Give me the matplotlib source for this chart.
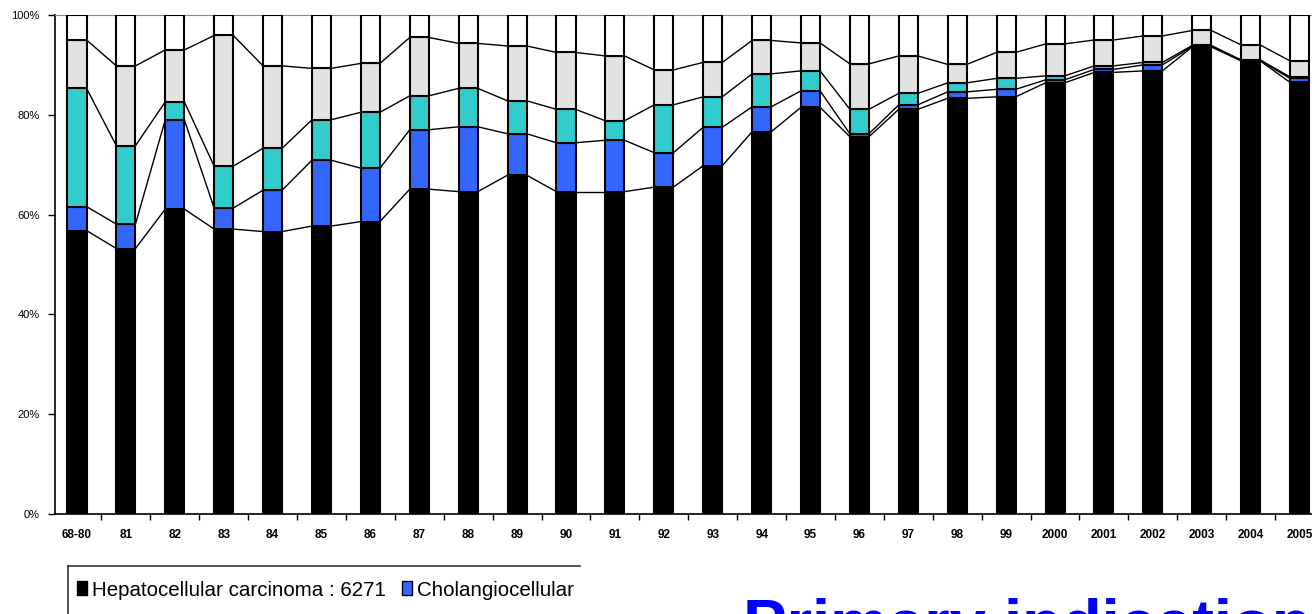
import matplotlib
matplotlib.use('Agg')
import matplotlib.pyplot as plt
import numpy as np
from matplotlib.patches import Patch
from matplotlib.lines import Line2D

categories = ['68-80', '81', '82', '83', '84', '85', '86', '87', '88', '89', '90', '91', '92',
              '93', '94', '95', '96', '97', '98', '99', '2000', '2001', '2002', '2003', '2004', '2005']
hcc = [56.8, 53.2, 61.1, 57.1, 56.6, 57.7, 58.6, 65.1, 64.6, 67.9, 64.6, 64.6, 65.5,
       69.8, 76.6, 81.5, 75.6, 81.1, 83.3, 83.6, 86.4, 88.5, 88.8, 93.6, 90.8, 86.5]
cholangio = [4.8, 4.9, 17.9, 4.2, 8.3, 13.2, 10.7, 11.9, 13.0, 8.3, 9.8, 10.3, 6.9,
             7.7, 5.0, 3.3, 0.6, 0.9, 1.3, 1.5, 0.6, 0.6, 1.2, 0.1, 0.1, 0.8]
series3 = [23.7, 15.7, 3.6, 8.4, 8.4, 8.1, 11.2, 6.8, 7.7, 6.6, 6.7, 3.9, 9.6,
           6.1, 6.6, 4.0, 4.9, 2.3, 1.8, 2.2, 0.8, 0.7, 0.5, 0.2, 0.1, 0.3]
series4 = [9.7, 16.0, 10.4, 26.2, 16.5, 10.3, 9.8, 11.7, 9.0, 11.0, 11.4, 13.0, 7.0,
           6.9, 6.7, 5.6, 9.1, 7.5, 3.7, 5.2, 6.4, 5.2, 5.3, 3.0, 3.0, 3.2]
other = [5.0, 10.2, 7.0, 4.1, 10.2, 10.7, 9.7, 4.5, 5.7, 6.2, 7.5, 8.2, 11.0,
         9.5, 5.1, 5.6, 9.8, 8.2, 9.9, 7.5, 5.8, 5.0, 4.2, 3.1, 6.0, 9.2]
y_ticks = [0, 20, 40, 60, 80, 100]
y_tick_labels = ['0%', '20%', '40%', '60%', '80%', '100%']
legend_labels = ['Hepatocellular carcinoma : 6271', 'Cholangiocellular']
title_text = 'Primary indications'

W, H = 1312, 614
fig = plt.figure(figsize=(W / 100, H / 100), dpi=100)
ax = fig.add_axes([55 / W, (H - 514) / H, (1324 - 55) / W, 499 / H])

x = np.arange(len(categories))
width = 0.39
colors = ['#000000', '#3366FF', '#33CCCC', '#E2E2E2', '#FFFFFF']
bottom = np.zeros(len(x))
tops = []
for vals, c in zip([hcc, cholangio, series3, series4, other], colors):
    vals = np.array(vals, dtype=float)
    ax.bar(x, vals, width, bottom=bottom, color=c, edgecolor='black',
           linewidth=1.5, zorder=3)
    bottom = bottom + vals
    tops.append(bottom.copy())

for t in tops[:-1]:
    for i in range(len(x) - 1):
        ax.plot([x[i] + width / 2, x[i + 1] - width / 2], [t[i], t[i + 1]],
                color='black', lw=1.0, zorder=2)

ax.set_xlim(-0.45, 25.5)
ax.set_ylim(0, 100)
ax.set_yticks(y_ticks)
ax.set_yticklabels(y_tick_labels, fontsize=8, family='Liberation Sans')
ax.set_xticks(np.arange(0.5, len(x) - 1, 1))
ax.set_xticklabels([])
ax.set_xticks(x, minor=True)
ax.set_xticklabels(categories, minor=True, fontsize=8.5, fontweight='bold',
                   family='Liberation Sans')
ax.tick_params(axis='x', which='major', direction='out', length=4, width=1)
ax.tick_params(axis='x', which='minor', length=0, pad=11)
ax.tick_params(axis='y', direction='out', length=5, width=1, pad=6)
ax.spines['right'].set_visible(False)
ax.spines['top'].set_color('#888888')
ax.spines['left'].set_linewidth(1.2)
ax.spines['bottom'].set_linewidth(1.2)

# legend box (cropped frame)
fig.add_artist(Line2D([68 / W, 580 / W], [(H - 566) / H] * 2, color='#333333', lw=1.2))
fig.add_artist(Line2D([68 / W, 68 / W], [(H - 566) / H, 0], color='#333333', lw=1.2))
handles = [Patch(facecolor='#000000', edgecolor='black'),
           Patch(facecolor='#3366FF', edgecolor='black')]
fig.legend(handles, legend_labels, loc='center left',
           bbox_to_anchor=(77 / W, (H - 590) / H), ncol=2, frameon=False,
           prop={'family': 'Liberation Sans', 'size': 14.8},
           handlelength=0.5, handleheight=0.65, handletextpad=0.25,
           columnspacing=0.75, borderpad=0, borderaxespad=0)

fig.text(743 / W, (H - 645) / H, title_text, color='#0000FF', fontsize=47,
         fontweight='bold', family='Liberation Sans', va='baseline', ha='left')

fig.savefig('out.png', dpi=100)
